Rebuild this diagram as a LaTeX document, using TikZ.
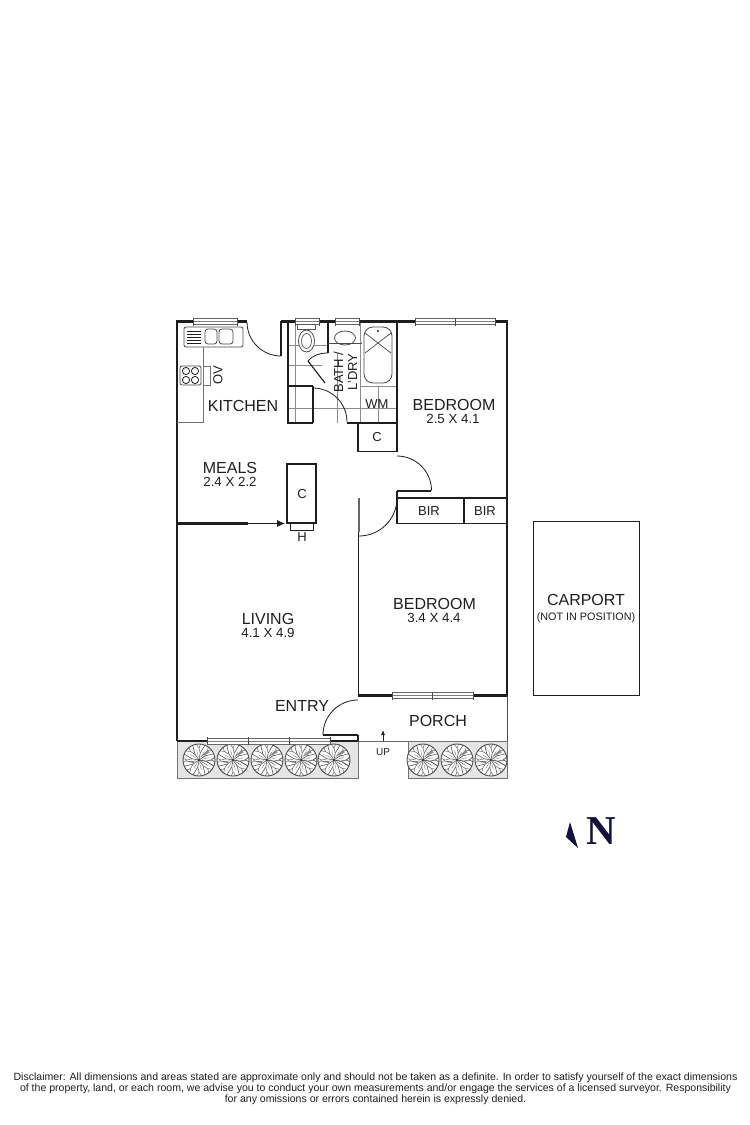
\documentclass[tikz,border=0pt]{standalone}
\usepackage{fontspec}
\setmainfont{Liberation Sans}
\newfontfamily\nfont{Liberation Serif}
\usetikzlibrary{arrows.meta}
\definecolor{ink}{HTML}{1E1E1E}
\definecolor{navy}{HTML}{12123A}
\tikzset{
  wall/.style={line width=2.4pt,draw=ink,line cap=butt},
  midwall/.style={line width=1.15pt,draw=ink},
  thin/.style={line width=.8pt,draw=ink!80},
  hair/.style={line width=.7pt,draw=black!55},
  tile/.style={line width=.65pt,draw=black!45},
  doorarc/.style={line width=.8pt,draw=ink},
  big/.style={font=\fontsize{16}{16}\selectfont,text=ink,inner sep=0pt},
  dim/.style={font=\fontsize{13.3}{13.3}\selectfont,text=ink,inner sep=0pt},
  small/.style={font=\fontsize{13}{13}\selectfont,text=ink,inner sep=0pt},
  legal/.style={font=\fontsize{10.55}{11.2}\selectfont,text=ink,inner sep=0pt,align=center},
  planter/.style={line width=.8pt,draw=black!55,fill=black!10},
  tree/.pic={
    \fill[white] (0,0) circle (16);
    \foreach \a in {10,55,...,370}{
      \draw[line width=.6pt,black!65] (0,0) -- (\a:7) -- (\a+12:16);
      \draw[line width=.5pt,black!60] (\a:7) -- (\a-10:12) -- (\a-4:16);
      \draw[line width=.5pt,black!60] (\a-10:12) -- (\a-20:16);
      \draw[line width=.4pt,black!50] (\a+22:3) -- (\a+22:10);
    }
    \fill[black!55] (150:6) -- (176:14) -- (165:5) -- cycle;
    \fill[black!45] (-60:4) -- (-35:13) -- (-50:14) -- cycle;
    \draw[line width=.9pt,black!70] (0,0) circle (16);
    \fill[ink] (0,0) circle (.9);
  }
}
\newcommand{\winseg}[4]{% x1,x2,y, ticks
  \fill[white] (#1,#3-3.5) rectangle (#2,#3+3.5);
  \draw[line width=.7pt,black!60] (#1,#3-3) -- (#2,#3-3) (#1,#3+3) -- (#2,#3+3);
  \draw[line width=.9pt,black!50] (#1,#3) -- (#2,#3);
  \foreach \t in {#4}{\draw[line width=.8pt,black!70] (\t,#3-4) -- (\t,#3+4);}
}
\begin{document}
\begin{tikzpicture}[x=1pt,y=-1pt]
\useasboundingbox (0,0) rectangle (750,1125);
% planters
\draw[planter] (177,741) rectangle (358,778);
\draw[planter] (408,741) rectangle (507,778);
\foreach \x in {199,233,267,301,334,423,457,491}{\pic at (\x,760) {tree};}
% tile lines
\draw[tile] (295,322) -- (295,423);
\draw[tile] (337,353) -- (337,423);
\draw[tile] (360,322) -- (360,423);
\draw[tile] (378,386) -- (378,423);
\draw[tile] (288,345) -- (328,345);
\draw[tile] (288,365) -- (322,365);
\draw[tile] (360,386) -- (396,386);
\draw[tile] (288,408) -- (396,408);
% outer walls
\draw[wall] (177,741) -- (177,321.5) -- (247,321.5);
\draw[wall] (281,321.5) -- (507,321.5) -- (507,524);
\draw[line width=1.6pt,draw=ink] (507,524) -- (507,696);
\draw[line width=.8pt,black!70] (507,696) -- (507,741);
\draw[wall] (177,741) -- (358,741) -- (358,735);
\draw[midwall] (323,735) -- (358,735);
\draw[line width=.8pt,black!60] (358,741) -- (408,741);
\draw[wall] (358,695.5) -- (507,695.5);
% interior walls
\draw[midwall] (281,321) -- (281,356);
\draw[midwall] (288,322) -- (288,423) -- (313,423);
\draw[midwall] (288,386) -- (313,386);
\draw[line width=1.8pt,draw=ink] (313,386) -- (313,423);
\draw[midwall] (347,423) -- (397,423);
\draw[line width=1.4pt,draw=ink] (397,322) -- (397,452);
\draw[midwall] (328,322) -- (328,353);
\draw[thin] (328,343.5) -- (362,343.5);
\draw[midwall] (358,423) -- (358,451.5) -- (397,451.5);
\draw[midwall] (397,491) -- (431,491);
\draw[midwall] (397,491) -- (397,498);
\draw[line width=2pt,draw=black!60] (358.5,498) -- (358.5,532);
\draw[line width=1.3pt,draw=ink] (358.5,532) -- (358.5,696);
\draw[wall] (177,523.5) -- (248,523.5);
\draw[line width=.8pt,ink,-{Latex[length=8pt,width=7pt]}] (248,523.5) -- (285,523.5);
% door arcs
\draw[doorarc] (247,322) arc[start angle=180,end angle=90,radius=34] ;
\draw[doorarc] (313,388) arc[start angle=-90,end angle=0,radius=34];
\draw[doorarc] (397,456) arc[start angle=-90,end angle=0,radius=34.5];
\draw[doorarc] (397,498) arc[start angle=0,end angle=90,radius=38];
\draw[doorarc] (358,700) arc[start angle=-90,end angle=-180,radius=35];
\draw[doorarc] (308,361) .. controls (313,355) and (320,353) .. (328,353);
\draw[midwall] (308,361) -- (325,383);
% windows
\winseg{193}{237}{321.5}{193,237}
\winseg{295}{319}{321.5}{295,319}
\winseg{335}{359}{321.5}{335,359}
\winseg{415}{495}{321.5}{415,455,495}
\winseg{207}{330}{741}{207,248,289,330}
\winseg{392}{473}{695.5}{392,432,473}
% kitchen fittings
\draw[thin,rounded corners=2pt,fill=white] (184,327) rectangle (243,347);
\foreach \y in {331,334,337,340,343}{\draw[line width=.6pt,ink] (187,\y) -- (201,\y);}
\draw[thin,rounded corners=3pt] (205,329) rectangle (217,344);
\draw[thin,rounded corners=3pt] (219,329) rectangle (233,344);
\draw[hair] (203,347) -- (203,422.5) -- (177,422.5);
\draw[thin,rounded corners=2pt,fill=white] (180,366) rectangle (201,385);
\foreach \p in {(186,371),(195,371),(186,380),(195,380)}{\draw[line width=.8pt,ink] \p circle (3.6);}
\draw[hair] (203,366) rectangle (210,385);
% bathroom fittings
\draw[line width=.7pt,black!65,fill=white] (297,324) rectangle (315,329);
\draw[thin,fill=white] (306.5,341) ellipse (8 and 11);
\draw[line width=.7pt,black!65] (306.5,341) ellipse (5 and 7.5);
\draw[thin] (345,338) ellipse (10.5 and 7);
\draw[line width=.8pt,ink!80,rounded corners=9pt,fill=white] (364,327) -- (392,327) -- (392,383) -- (364,383) -- cycle;
\draw[line width=.7pt,ink!80] (365,333) -- (391,353) (365,353) -- (391,333);
\fill[ink] (378,331) circle (1.1);
% cupboards
\draw[midwall] (287,464) rectangle (316,523);
\draw[line width=.8pt,ink] (290,523.5) rectangle (313,530);
\draw[midwall] (397,498) -- (507,498);
\draw[midwall] (397,498) -- (397,523.5) -- (507,523.5);
\draw[midwall] (464,498) -- (464,523.5);
% carport
\draw[line width=.9pt,ink] (533,521) rectangle (639,695);
% up arrow
\draw[line width=.7pt,ink,-{Latex[length=5pt,width=4pt]}] (383,741) -- (383,730);
% north
\fill[navy] (570,822) -- (566,837) -- (578,848) -- cycle;
\node[inner sep=0pt,text=navy,font=\nfont\bfseries\fontsize{41}{41}\selectfont] (north) at (601.5,831) {N};
% labels
\node[big] (kitchen) at (243,405.5) {KITCHEN};
\node[big] (meals) at (230,468) {MEALS};
\node[dim] (mealsd) at (230,482) {2.4 X 2.2};
\node[big] (bed1) at (454,405) {BEDROOM};
\node[dim] (bed1d) at (453,419) {2.5 X 4.1};
\node[big] (bed2) at (434.5,603.5) {BEDROOM};
\node[dim] (bed2d) at (434,617.5) {3.4 X 4.4};
\node[big] (living) at (268,618.5) {LIVING};
\node[dim] (livingd) at (268,633) {4.1 X 4.9};
\node[big] (entry) at (302,705.5) {ENTRY};
\node[big] (porch) at (438,721) {PORCH};
\node[big] (carport) at (586,600) {CARPORT};
\node[font=\fontsize{10.8}{10.8}\selectfont,text=ink,inner sep=0pt] (carnote) at (586,618) {(NOT IN POSITION)};
\node[small] (bir1) at (429,511) {BIR};
\node[small] (bir2) at (485,511) {BIR};
\node[small] (wm) at (377,404.5) {WM};
\node[small] (c1) at (377,437) {C};
\node[small] (c2) at (302,494) {C};
\node[small] (h) at (302,537) {H};
\node[small,rotate=90] (ov) at (218,375) {OV};
\node[small,rotate=90,align=center,font=\fontsize{13}{14}\selectfont] (bath) at (345.5,372) {BATH /\\L'DRY};
\node[font=\fontsize{10}{10}\selectfont,text=ink,inner sep=0pt] (up) at (383,752) {UP};
\node[legal] (disc) at (375.5,1089) {Disclaimer: All dimensions and areas stated are approximate only and should not be taken as a definite. In order to satisfy yourself of the exact dimensions\\of the property, land, or each room, we advise you to conduct your own measurements and/or engage the services of a licensed surveyor. Responsibility\\for any omissions or errors contained herein is expressly denied.};
\end{tikzpicture}
\end{document}
